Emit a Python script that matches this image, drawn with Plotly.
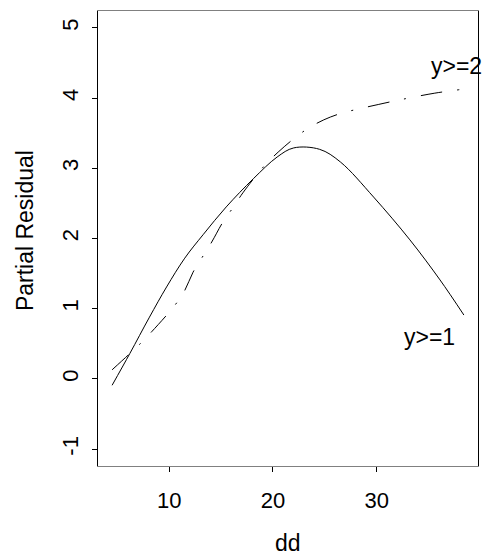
import plotly.graph_objects as go

# y>=1 fitted curve (solid)
dd1 = [4.5, 6.2, 8.1, 9.75, 11.5, 13.3, 15.5, 18.1, 20.4, 22.0, 24.5, 26.5, 29.7, 33.2, 36.1, 38.4]
res1 = [-0.09, 0.36, 0.88, 1.31, 1.72, 2.06, 2.45, 2.85, 3.16, 3.29, 3.27, 3.09, 2.59, 1.98, 1.41, 0.91]

# y>=2 fitted curve (dash-dot)
dd2 = [4.5, 6.05, 7.2, 8.3, 10.55, 11.5, 12.3, 13.3, 14.1, 15.2, 16.2, 17.1, 19.2, 20.5, 22.0,
       23.4, 24.9, 26.5, 28.1, 30.2, 32.4, 35.6, 38.0]
res2 = [0.13, 0.34, 0.50, 0.67, 1.05, 1.26, 1.52, 1.76, 1.95, 2.24, 2.45, 2.65, 3.04, 3.23, 3.42,
        3.57, 3.69, 3.78, 3.84, 3.91, 3.98, 4.07, 4.12]

x_ticks = [10, 20, 30]
y_ticks = [-1, 0, 1, 2, 3, 4, 5]
y_ticktext = ["-1", "0", "1", "2", "3", "4", "5"]

labels = ["y>=1", "y>=2"]
label_x = [35.1, 37.65]
label_y = [0.6, 4.45]

FONT = "Liberation Sans, Arial, sans-serif"

fig = go.Figure()
fig.add_trace(go.Scatter(x=dd1, y=res1, mode="lines", line=dict(color="black", width=1, shape="spline"),
                         showlegend=False, hoverinfo="skip"))
fig.add_trace(go.Scatter(x=dd2, y=res2, mode="lines",
                         line=dict(color="black", width=1, shape="spline", dash="22px,15px,2px,15px"),
                         showlegend=False, hoverinfo="skip"))

for t, lx, ly in zip(labels, label_x, label_y):
    fig.add_annotation(x=lx, y=ly, text=t, showarrow=False, xanchor="center", yanchor="middle",
                       font=dict(family=FONT, size=23, color="black"))

fig.add_annotation(xref="paper", yref="paper", x=-0.19, y=0.518, text="Partial Residual",
                   textangle=-90, showarrow=False, xanchor="center", yanchor="middle",
                   font=dict(family=FONT, size=23, color="black"))
fig.add_annotation(xref="paper", yref="paper", x=0.5, y=-0.17, text="dd",
                   showarrow=False, xanchor="center", yanchor="middle",
                   font=dict(family=FONT, size=23, color="black"))

fig.update_layout(
    width=488, height=558,
    margin=dict(l=98, r=10, t=11, b=92),
    paper_bgcolor="white", plot_bgcolor="white",
    font=dict(family=FONT, size=22, color="black"),
)
fig.update_xaxes(range=[3.14, 39.76], tickvals=x_ticks, ticks="outside", ticklen=5, tickcolor="black",
                 showline=True, linecolor="#808080", linewidth=1, mirror=True, showgrid=False,
                 zeroline=False, tickfont=dict(size=22), ticklabelstandoff=10)
fig.update_yaxes(range=[-1.24, 5.24], tickvals=y_ticks, ticktext=y_ticktext, ticks="outside", ticklen=5,
                 tickcolor="black", showline=True, linecolor="black", linewidth=1, mirror=True,
                 showgrid=False, zeroline=False, tickangle=-90, tickfont=dict(size=22),
                 ticklabelstandoff=5)

fig.write_html("out.html")
